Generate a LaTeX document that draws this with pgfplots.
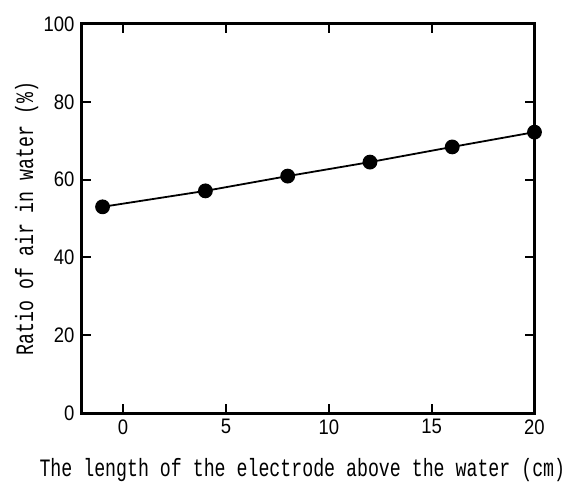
\documentclass[border=0pt]{standalone}
\usepackage{fontspec}
\usepackage{pgfplots}
\pgfplotsset{compat=1.18}
\newfontfamily\labelfont{Liberation Mono}[FakeStretch=0.73]
\newfontfamily\tickfont{Liberation Sans}[FakeStretch=0.88]
\begin{document}
\begin{tikzpicture}
\begin{axis}[
  scale only axis,
  width=452.5pt, height=389pt,
  xmin=-2, xmax=20, ymin=0, ymax=100,
  xtick={0,5,10,15,20}, ytick={0,20,40,60,80,100},
  tick align=inside,
  major tick length=9pt,
  axis line style={line width=3pt},
  every tick/.style={line width=2pt, black},
  minor tick num=0,
  clip=false,
  /pgf/number format/assume math mode=true,
  tick label style={font=\tickfont\fontsize{21}{25}\selectfont},
  xticklabel style={yshift=-3pt},
  yticklabel style={xshift=-4pt},
  xlabel={The length of the electrode above the water (cm)},
  ylabel={Ratio of air in water (\%)},
  label style={font=\labelfont\fontsize{25}{29}\selectfont},
  xlabel style={at={(axis description cs:0.487,-0.1637)}, anchor=base},
  ylabel style={at={(axis description cs:-0.108,0.5)}, anchor=base, rotate=0},
]
\addplot[black, line width=1.8pt, mark=*, mark size=6.5pt, mark options={fill=black}]
coordinates {(-1,53.0) (4,57.1) (8,60.9) (12,64.5) (16,68.4) (20,72.2)};
\end{axis}
\path[use as bounding box] (current axis.south west) ++(-82pt,-69pt) rectangle ++(587pt,482pt);
\end{tikzpicture}
\end{document}
